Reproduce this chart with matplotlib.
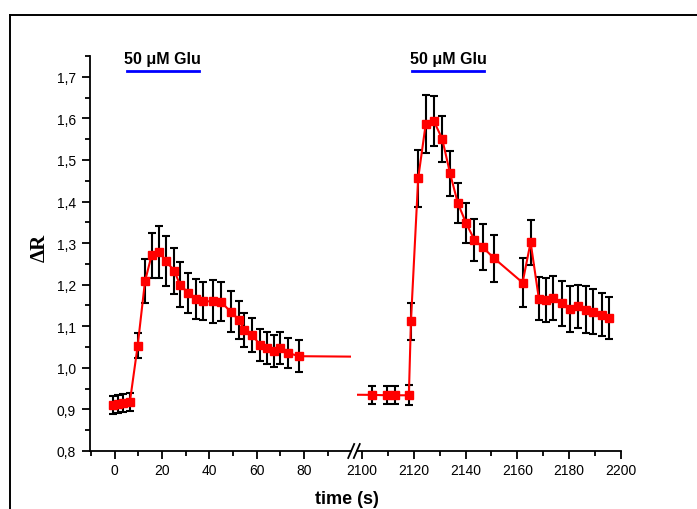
import matplotlib
matplotlib.use("Agg")
import matplotlib.pyplot as plt
from matplotlib.ticker import MultipleLocator, FixedLocator, FuncFormatter
from matplotlib.lines import Line2D

# ---- data: first glutamate application (time in s, ratio change, s.e.m.)
t_first = [-0.6, 1.5, 3.6, 6.4, 9.7, 12.8, 15.6, 18.7, 21.8, 25.2, 27.6, 31.1, 34.2,
           37.2, 41.4, 44.9, 49.0, 52.6, 54.7, 58.2, 61.4, 64.5, 67.4, 69.9, 73.1, 78.0]
dr_first = [0.910, 0.913, 0.915, 0.918, 1.053, 1.208, 1.271, 1.279, 1.256, 1.233, 1.200,
            1.180, 1.165, 1.160, 1.160, 1.159, 1.135, 1.115, 1.091, 1.079, 1.055, 1.048,
            1.041, 1.047, 1.036, 1.028]
err_first = [0.022, 0.021, 0.022, 0.022, 0.030, 0.053, 0.054, 0.063, 0.060, 0.056, 0.054,
             0.048, 0.048, 0.046, 0.051, 0.047, 0.050, 0.046, 0.042, 0.040, 0.038, 0.038,
             0.039, 0.038, 0.036, 0.038]

# ---- data: second glutamate application
t_second = [2104.0, 2109.8, 2112.7, 2118.1, 2118.9, 2121.7, 2124.6, 2127.8, 2131.0,
            2134.0, 2137.0, 2140.2, 2143.4, 2146.6, 2151.1, 2162.0, 2165.1, 2168.3,
            2170.9, 2173.9, 2177.1, 2180.3, 2183.5, 2186.5, 2189.3, 2192.5, 2195.5]
dr_second = [0.935, 0.934, 0.934, 0.934, 1.112, 1.456, 1.586, 1.593, 1.550, 1.468, 1.396,
             1.348, 1.308, 1.290, 1.263, 1.205, 1.302, 1.166, 1.163, 1.168, 1.155, 1.142,
             1.148, 1.140, 1.135, 1.128, 1.120]
err_second = [0.022, 0.022, 0.022, 0.024, 0.044, 0.069, 0.070, 0.060, 0.055, 0.054, 0.048,
              0.048, 0.051, 0.055, 0.057, 0.058, 0.054, 0.052, 0.052, 0.052, 0.055, 0.055,
              0.052, 0.056, 0.054, 0.051, 0.051]

# glutamate application windows (s)
glu_first = (5.0, 35.5)
glu_second = (2119.5, 2147.0)
glu_label = "50 \u03bcM Glu"

xticks_first = [0, 20, 40, 60, 80]
xticks_second = [2100, 2120, 2140, 2160, 2180, 2200]

t_all = t_first + t_second
dr_all = dr_first + dr_second

W, H = 697, 510
fig = plt.figure(figsize=(W / 100, H / 100), dpi=100)
plt.rcParams["font.family"] = ["Liberation Sans", "DejaVu Sans"]


def fx(px):
    return px / W


def fy(py):
    return 1 - py / H


y_bot, y_top = 452, 57
axL = fig.add_axes([fx(89.9), fy(y_bot), fx(351.2) - fx(89.9), (y_bot - y_top) / H])
axR = fig.add_axes([fx(356.8), fy(y_bot), fx(621) - fx(356.8), (y_bot - y_top) / H])

axL.set_xlim(-10.5, 100)
axR.set_xlim(2098, 2200)
for ax in (axL, axR):
    ax.set_ylim(0.8, 1.75)
    ax.patch.set_alpha(0)
    for s in ("top", "right"):
        ax.spines[s].set_visible(False)
    for s in ("left", "bottom"):
        ax.spines[s].set_linewidth(1.3)
    ax.tick_params(axis="both", which="major", direction="out", length=6, width=1.3,
                   labelsize=10, pad=2.5)
    ax.tick_params(axis="both", which="minor", direction="out", length=3.5, width=1.3)
    ax.errorbar(t_all, dr_all, yerr=err_first + err_second, fmt="none", ecolor="black",
                elinewidth=1.5, capsize=3, capthick=1.5, zorder=2)
    ax.plot(t_all, dr_all, color="red", lw=1.5, marker="s", ms=6, mec="red",
            mfc="red", zorder=3)

axR.spines["left"].set_visible(False)
axR.tick_params(axis="y", which="both", left=False, labelleft=False)

axL.yaxis.set_major_locator(MultipleLocator(0.1))
axL.yaxis.set_minor_locator(MultipleLocator(0.05))
axL.yaxis.set_major_formatter(FuncFormatter(lambda v, p: f"{v:.1f}".replace(".", ",")))
axL.tick_params(axis="y", pad=4)

axL.xaxis.set_major_locator(FixedLocator(xticks_first))
axL.xaxis.set_minor_locator(FixedLocator([-10, 10, 30, 50, 70, 90]))
axR.xaxis.set_major_locator(FixedLocator(xticks_second))
axR.xaxis.set_minor_locator(FixedLocator([2110, 2130, 2150, 2170, 2190]))

# glutamate bars and labels
for ax, (g0, g1) in ((axL, glu_first), (axR, glu_second)):
    ax.plot([g0, g1], [1.713, 1.713], color="blue", lw=2, clip_on=False, zorder=4)
    ax.text((g0 + g1) / 2, 1.745, glu_label, ha="center", va="center", fontsize=11.5,
            fontweight="bold", clip_on=False)

# axis-break marks
for xc in (351.2, 356.8):
    fig.add_artist(Line2D([fx(xc - 3), fx(xc + 3)], [fy(459), fy(445)],
                          transform=fig.transFigure, color="black", lw=1.3))

# outer frame
fig.add_artist(Line2D([fx(10), fx(10)], [fy(16), 0], transform=fig.transFigure,
                      color="black", lw=1.4))
fig.add_artist(Line2D([fx(10), 1], [fy(16), fy(16)], transform=fig.transFigure,
                      color="black", lw=1.4))

fig.text(fx(347), fy(500), "time (s)", ha="center", va="center", fontsize=13,
         fontweight="bold")
fig.text(fx(40), fy(248), "\u0394R", ha="center", va="center", rotation=90, fontsize=15,
         fontweight="bold", family=["Liberation Serif", "DejaVu Serif"])

fig.savefig("out.png", dpi=100)
